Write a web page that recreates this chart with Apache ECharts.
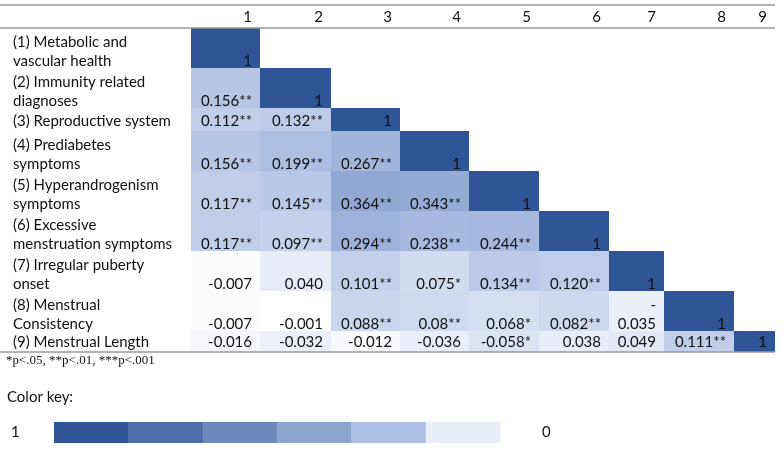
<!DOCTYPE html>
<html><head><meta charset="utf-8">
<script src="https://cdn.jsdelivr.net/npm/echarts@6/dist/echarts.min.js"></script>
<style>html,body{margin:0;padding:0;background:#fff}#c{width:784px;height:452px}</style>
</head><body><div id="c"></div>
<script>
// ---------- data ----------
const rowLabels = [
  '(1) Metabolic and\nvascular health',
  '(2) Immunity related\ndiagnoses',
  '(3) Reproductive system',
  '(4) Prediabetes\nsymptoms',
  '(5) Hyperandrogenism\nsymptoms',
  '(6) Excessive\nmenstruation symptoms',
  '(7) Irregular puberty\nonset',
  '(8) Menstrual\nConsistency',
  '(9) Menstrual Length'
];
const colLabels = ['1', '2', '3', '4', '5', '6', '7', '8', '9'];
const r1 = ['1'];
const r2 = ['0.156**', '1'];
const r3 = ['0.112**', '0.132**', '1'];
const r4 = ['0.156**', '0.199**', '0.267**', '1'];
const r5 = ['0.117**', '0.145**', '0.364**', '0.343**', '1'];
const r6 = ['0.117**', '0.097**', '0.294**', '0.238**', '0.244**', '1'];
const r7 = ['-0.007', '0.040', '0.101**', '0.075*', '0.134**', '0.120**', '1'];
const r8 = ['-0.007', '-0.001', '0.088**', '0.08**', '0.068*', '0.082**', '-0.035', '1'];
const r9 = ['-0.016', '-0.032', '-0.012', '-0.036', '-0.058*', '0.038', '0.049', '0.111**', '1'];
const footnote = '*p<.05, **p<.01, ***p<.001';
const keyTitle = 'Color key:';
const keySteps = [1, 0.8, 0.6, 0.4, 0.2, 0];
const keyHigh = '1';
const keyLow = '0';

// ---------- layout & style ----------
const colWidths = [191, 69, 71, 69, 69, 70, 70, 55, 70, 41]; // label column + 9 columns
const rowHeights = [23, 40, 40, 23, 40, 40, 40, 40, 40, 21];  // header + 9 rows
const scaleColors = ['#FFFFFF', '#C3D0EB', '#ABBFE1', '#9BB1D8', '#8BA3CF', '#7C97C6',
                     '#6D8ABC', '#5D7CB2', '#4D6EA8', '#3E62A0', '#2F5597'];
const keyColors = ['#2F5597', '#4D6EA8', '#6D89BB', '#8CA5CF', '#ABBFE2', '#E9EDF8'];
const FONT = 'Lato';
const FS = 15;
const TXT = '#111';
const PAD = 8;

const cum = a => a.reduce((acc, w) => (acc.push(acc[acc.length - 1] + w), acc), [0]);
const colEdges = cum(colWidths);
const rowEdges = cum(rowHeights);
const totalW = colEdges[colEdges.length - 1];
const totalH = rowEdges[rowEdges.length - 1];
const textDrop = r => (rowHeights[r] < 30 ? 0 : 3);

const rows = [r1, r2, r3, r4, r5, r6, r7, r8, r9];
const cellData = [];
const cellText = [];
rows.forEach((row, i) => row.forEach((t, j) => {
  const v = parseFloat(t);
  cellData.push([j + 1, i + 1, v, Math.abs(v)]);
  cellText.push(t);
}));

const mctx = document.createElement('canvas').getContext('2d');
mctx.font = FS + 'px ' + FONT;
function fitText(t, w) {
  if (mctx.measureText(t).width > w - 14 && t[0] === '-') return '-\n' + t.slice(1);
  return t;
}

const chart = echarts.init(document.getElementById('c'), null, {renderer: 'canvas'});
chart.setOption({
  animation: false,
  backgroundColor: '#fff',
  grid: [
    {left: 0, top: 5, width: totalW, height: totalH},
    {left: 54, top: 422, width: 446, height: 21}
  ],
  xAxis: [
    {type: 'value', min: 0, max: totalW, show: false, gridIndex: 0},
    {type: 'category', data: keySteps.map(String), show: false, gridIndex: 1}
  ],
  yAxis: [
    {type: 'value', min: 0, max: totalH, inverse: true, show: false, gridIndex: 0},
    {type: 'value', min: 0, max: 1, show: false, gridIndex: 1}
  ],
  visualMap: {
    type: 'continuous', show: false, seriesIndex: 0, dimension: 3,
    min: 0, max: 1, inRange: {color: scaleColors}
  },
  series: [
    {
      type: 'custom', xAxisIndex: 0, yAxisIndex: 0,
      data: cellData,
      renderItem(params, api) {
        const c = api.value(0), r = api.value(1);
        const p0 = api.coord([colEdges[c], rowEdges[r]]);
        const p1 = api.coord([colEdges[c + 1], rowEdges[r + 1]]);
        const w = p1[0] - p0[0];
        return {type: 'group', children: [
          {type: 'rect', shape: {x: p0[0], y: p0[1], width: w, height: p1[1] - p0[1]},
           style: {fill: api.visual('color')}},
          {type: 'text', x: p1[0] - PAD, y: p1[1] + textDrop(r),
           style: {text: fitText(cellText[params.dataIndex], w), align: 'right', verticalAlign: 'bottom',
                   font: FS + 'px ' + FONT, lineHeight: 19.5, fill: TXT}}
        ]};
      }
    },
    {
      type: 'custom', xAxisIndex: 0, yAxisIndex: 0,
      data: rowLabels.map((_, i) => [0, i + 1]),
      renderItem(params, api) {
        const r = api.value(1);
        const p0 = api.coord([colEdges[0], rowEdges[r + 1]]);
        return {type: 'text', x: p0[0] + 13, y: p0[1] + textDrop(r),
                style: {text: rowLabels[params.dataIndex], align: 'left', verticalAlign: 'bottom',
                        font: FS + 'px ' + FONT, lineHeight: 19.5, fill: TXT}};
      }
    },
    {
      type: 'custom', xAxisIndex: 0, yAxisIndex: 0,
      data: colLabels.map((_, j) => [j + 1, 0]),
      renderItem(params, api) {
        const c = api.value(0);
        const p1 = api.coord([colEdges[c + 1], rowEdges[1]]);
        return {type: 'text', x: p1[0] - PAD, y: p1[1] - 1,
                style: {text: colLabels[params.dataIndex], align: 'right', verticalAlign: 'bottom',
                        font: FS + 'px ' + FONT, lineHeight: 19.5, fill: TXT}};
      }
    },
    {
      type: 'custom', xAxisIndex: 0, yAxisIndex: 0,
      data: [[0, 0], [0, 1], [0, rowEdges.length - 1]],
      z: 5,
      renderItem(params, api) {
        const k = api.value(1);
        const a = api.coord([0, rowEdges[k]]);
        const b = api.coord([totalW, rowEdges[k]]);
        return {type: 'line', shape: {x1: a[0], y1: a[1], x2: b[0], y2: b[1]},
                style: {stroke: '#9a9a9a', lineWidth: 1.5}};
      }
    },
    {
      type: 'custom', xAxisIndex: 1, yAxisIndex: 1,
      data: keySteps.map((v, i) => [i, v]),
      renderItem(params, api) {
        const i = api.value(0);
        const top = api.coord([i, 1]);
        const bot = api.coord([i, 0]);
        const w = api.size([1, 0])[0];
        return {type: 'rect', shape: {x: top[0] - w / 2, y: top[1], width: w + 0.5, height: bot[1] - top[1]},
                style: {fill: keyColors[params.dataIndex]}};
      }
    }
  ],
  graphic: [
    {type: 'text', left: 6, top: 354, style: {text: footnote, font: '13px "Liberation Serif"', fill: TXT}},
    {type: 'text', left: 7, top: 390, style: {text: keyTitle, font: FS + 'px ' + FONT, fill: TXT}},
    {type: 'text', left: 11, top: 425, style: {text: keyHigh, font: FS + 'px ' + FONT, fill: TXT}},
    {type: 'text', left: 542, top: 425, style: {text: keyLow, font: FS + 'px ' + FONT, fill: TXT}}
  ]
});
</script>
</body></html>
